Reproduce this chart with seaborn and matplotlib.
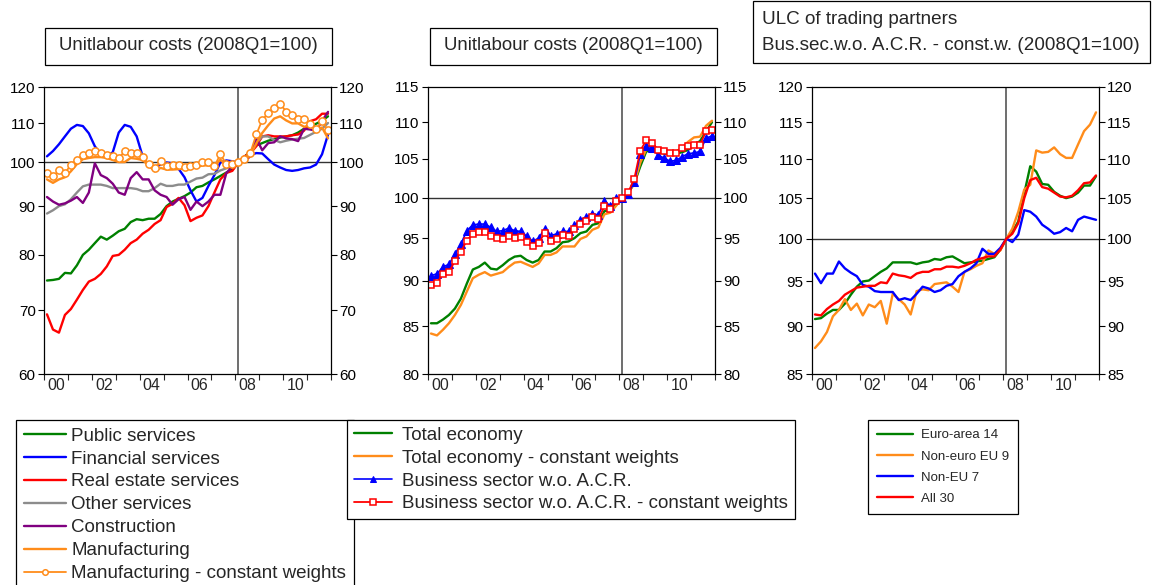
import matplotlib
matplotlib.use('Agg')
import matplotlib.pyplot as plt
from matplotlib.patches import Rectangle
from matplotlib.ticker import FixedLocator, FixedFormatter, NullLocator, NullFormatter
import pandas as pd
import seaborn as sns

# ---- data (quarterly, 2000Q1-2011Q4, 2008Q1 = 100) ----
quarters = pd.period_range('2000Q1', '2011Q4', freq='Q')
year_labels = ['00', '02', '04', '06', '08', '10']

public_services = [75.2, 75.3, 75.5, 76.6, 76.5, 78.0, 80.0, 81.0, 82.3, 83.6, 83.0, 83.8,
                   84.7, 85.2, 86.6, 87.2, 87.0, 87.3, 87.3, 88.3, 90.0, 91.0, 91.6, 92.2,
                   93.0, 94.2, 94.5, 95.3, 96.0, 96.8, 97.6, 98.3, 100.0, 101.3, 102.8, 104.2,
                   104.8, 105.4, 105.8, 106.2, 106.5, 106.8, 107.5, 108.5, 109.0, 109.8, 110.6, 111.8]
financial_services = [101.5, 102.8, 104.5, 106.5, 108.5, 109.5, 109.2, 107.3, 104.0, 102.0, 101.5, 102.5,
                      107.5, 109.5, 109.0, 106.5, 101.5, 99.0, 98.8, 99.5, 100.0, 99.8, 98.5, 96.5,
                      93.5, 91.0, 91.8, 94.5, 97.0, 100.0, 100.5, 100.3, 100.0, 100.8, 101.8, 102.3,
                      102.2, 100.8, 99.5, 98.8, 98.2, 98.0, 98.2, 98.6, 98.8, 99.5, 102.0, 107.0]
real_estate = [69.3, 66.8, 66.3, 69.2, 70.2, 71.8, 73.5, 75.0, 75.5, 76.4, 77.8, 79.8,
               80.0, 81.0, 82.3, 83.0, 84.2, 85.0, 86.2, 87.0, 89.8, 90.5, 91.8, 90.2,
               86.8, 87.5, 88.0, 90.0, 93.0, 96.0, 97.5, 98.0, 100.0, 101.5, 102.2, 104.0,
               106.5, 106.8, 106.5, 106.5, 106.5, 106.8, 107.0, 108.0, 110.5, 111.0, 112.5, 112.5]
other_services = [88.4, 89.1, 90.0, 90.4, 91.5, 93.0, 94.4, 94.8, 94.8, 94.8, 94.5, 94.0,
                  94.0, 94.0, 94.0, 93.8, 93.3, 93.3, 94.0, 95.0, 94.5, 94.5, 94.8, 94.8,
                  95.5, 96.2, 96.4, 97.2, 97.3, 98.1, 98.6, 99.0, 100.0, 100.9, 102.3, 104.8,
                  106.5, 106.5, 105.6, 105.0, 105.4, 105.7, 105.9, 106.1, 106.9, 107.7, 108.5, 110.0]
construction = [92.0, 91.0, 90.3, 90.6, 91.2, 92.0, 90.7, 93.0, 99.8, 97.0, 96.3, 95.0,
                93.0, 92.5, 96.3, 97.7, 96.0, 96.0, 93.5, 92.5, 92.0, 90.3, 91.5, 92.0,
                89.2, 91.0, 90.0, 91.0, 92.5, 92.5, 97.5, 99.0, 100.0, 100.3, 101.5, 106.0,
                103.0, 104.8, 105.0, 106.5, 106.0, 105.8, 105.3, 108.5, 108.3, 108.0, 110.5, 113.0]
manufacturing = [96.0, 95.2, 96.0, 96.5, 97.9, 99.6, 100.8, 101.1, 101.3, 101.3, 101.1, 100.6,
                 100.1, 100.1, 101.1, 100.9, 100.6, 99.3, 97.9, 98.7, 98.3, 98.3, 98.4, 98.6,
                 98.7, 98.9, 99.3, 99.3, 99.1, 100.7, 99.3, 99.3, 100.0, 100.7, 101.8, 104.7,
                 107.4, 109.4, 111.2, 111.8, 110.7, 109.9, 109.9, 109.0, 109.4, 108.4, 108.8, 106.0]
manufacturing_cw = [97.5, 96.7, 98.1, 97.4, 99.5, 100.6, 101.9, 102.2, 102.7, 102.2, 101.9, 101.6,
                    101.1, 102.7, 102.2, 102.2, 101.4, 99.6, 98.6, 100.3, 99.1, 99.4, 99.3, 98.8,
                    99.1, 99.3, 100.2, 100.2, 99.1, 102.0, 99.6, 99.6, 100.0, 100.8, 102.3, 107.0,
                    110.8, 112.7, 114.2, 115.2, 113.1, 112.2, 111.0, 111.2, 109.8, 108.3, 110.5, 108.1]

total_economy = [85.3, 85.3, 85.7, 86.2, 86.9, 88.0, 89.7, 91.3, 91.6, 92.1, 91.4, 91.3,
                 91.8, 92.4, 92.8, 92.9, 92.4, 92.1, 92.4, 93.4, 93.4, 93.8, 94.5, 94.6,
                 95.0, 95.6, 95.8, 96.6, 96.8, 98.3, 98.4, 99.1, 100.0, 100.6, 101.8, 104.0,
                 106.0, 106.2, 106.0, 105.7, 105.6, 105.7, 105.9, 106.2, 106.9, 107.4, 108.7, 110.0]
total_economy_cw = [84.2, 84.0, 84.6, 85.3, 86.2, 87.3, 88.8, 90.3, 90.7, 91.0, 90.6, 90.8,
                    91.0, 91.6, 92.1, 92.2, 91.9, 91.6, 92.0, 93.0, 93.0, 93.3, 94.0, 94.0,
                    94.0, 94.9, 95.2, 96.0, 96.3, 97.9, 98.1, 99.0, 100.0, 100.6, 101.8, 104.5,
                    106.3, 106.4, 106.0, 105.8, 105.8, 106.0, 106.5, 107.3, 107.9, 108.0, 109.5, 110.2]
business_sector = [90.6, 90.8, 91.6, 91.9, 93.1, 94.3, 95.9, 96.6, 96.7, 96.7, 96.3, 95.8,
                   95.9, 96.2, 95.9, 95.8, 95.2, 94.6, 95.0, 96.1, 95.3, 95.5, 95.8, 95.8,
                   96.6, 97.2, 97.6, 98.0, 97.8, 99.6, 98.9, 99.9, 100.0, 100.5, 102.0, 105.6,
                   106.8, 106.5, 105.5, 105.1, 104.7, 104.8, 105.3, 105.7, 105.8, 106.0, 107.8, 108.1]
business_sector_cw = [89.5, 89.8, 90.8, 91.0, 92.3, 93.4, 94.7, 95.5, 95.7, 95.7, 95.3, 95.0,
                      94.9, 95.3, 95.0, 95.1, 94.5, 94.0, 94.4, 95.6, 94.7, 94.9, 95.4, 95.2,
                      96.1, 96.7, 97.1, 97.6, 97.3, 98.9, 98.6, 99.5, 100.0, 100.7, 102.4, 106.1,
                      107.5, 107.2, 106.2, 106.0, 105.8, 105.8, 106.4, 106.7, 106.9, 106.9, 108.8, 108.9]

euro_area_14 = [90.8, 90.9, 91.4, 91.8, 91.8, 92.5, 93.5, 94.4, 95.0, 95.1, 95.6, 96.1,
                96.5, 97.2, 97.2, 97.2, 97.2, 97.0, 97.2, 97.3, 97.6, 97.5, 97.8, 97.9,
                97.5, 97.1, 97.2, 97.3, 97.4, 97.6, 97.8, 98.7, 100.0, 100.8, 102.1, 105.6,
                109.1, 108.4, 106.8, 106.7, 105.8, 105.3, 105.0, 105.2, 105.7, 106.6, 106.6, 107.8]
non_euro_eu_9 = [87.7, 88.4, 89.4, 91.1, 91.8, 93.0, 91.8, 92.5, 91.2, 92.4, 92.1, 92.8,
                 90.3, 93.6, 93.0, 92.4, 91.3, 93.9, 94.1, 94.0, 94.7, 94.8, 94.9, 94.4,
                 93.8, 96.1, 96.4, 96.8, 97.1, 98.6, 98.2, 98.6, 100.0, 101.2, 103.3, 106.1,
                 106.7, 111.2, 110.9, 111.0, 111.6, 110.7, 110.2, 110.2, 112.0, 113.8, 114.7, 116.4]
non_eu_7 = [95.9, 94.8, 95.9, 95.9, 97.3, 96.5, 96.0, 95.6, 94.6, 94.4, 93.9, 93.8,
            93.8, 93.8, 92.9, 93.1, 92.9, 93.6, 94.4, 94.2, 93.8, 94.0, 94.5, 94.7,
            95.6, 96.1, 96.5, 97.1, 98.8, 98.2, 98.2, 98.9, 100.0, 99.6, 100.5, 103.5,
            103.3, 102.7, 101.7, 101.2, 100.6, 100.8, 101.3, 100.9, 102.3, 102.7, 102.5, 102.3]
all_30 = [91.3, 91.2, 91.9, 92.4, 92.8, 93.5, 93.9, 94.3, 94.4, 94.5, 94.5, 94.9,
          94.8, 95.9, 95.7, 95.6, 95.4, 95.9, 96.1, 96.1, 96.4, 96.4, 96.7, 96.7,
          96.6, 96.8, 97.1, 97.5, 97.7, 97.9, 97.9, 98.7, 100.0, 100.6, 101.9, 105.0,
          107.3, 107.6, 106.4, 106.2, 105.7, 105.2, 105.1, 105.3, 106.0, 106.9, 107.0, 107.9]

# ---- style ----
sns.set_style('ticks')
plt.rcParams['font.family'] = ['Liberation Sans', 'DejaVu Sans']

W, H = 1154, 585
fig = plt.figure(figsize=(W / 100, H / 100), dpi=100)


def fx(px):
    return px / W


def fy(py):
    return 1 - py / H


x = quarters.year + (quarters.quarter - 0.5) / 4


def make_axes(left_px):
    return fig.add_axes([fx(left_px), fy(374), 287 / W, 287 / H])


def style_axis(ax, lo, hi, yticks):
    ax.set_yscale('log')
    ax.set_ylim(lo, hi)
    ax.set_xlim(2000, 2012)
    ax.yaxis.set_major_locator(FixedLocator(yticks))
    ax.yaxis.set_major_formatter(FixedFormatter([str(t) for t in yticks]))
    ax.yaxis.set_minor_locator(NullLocator())
    ax.yaxis.set_minor_formatter(NullFormatter())
    ax.tick_params(axis='y', which='major', left=True, right=True, labelleft=True,
                   labelright=True, direction='out', length=4, width=0.8,
                   labelsize=11, pad=2, colors='black')
    ax.xaxis.set_major_locator(FixedLocator(range(2000, 2013)))
    ax.xaxis.set_major_formatter(NullFormatter())
    ax.xaxis.set_minor_locator(FixedLocator([2000.5 + 2 * k for k in range(6)]))
    ax.xaxis.set_minor_formatter(FixedFormatter(year_labels))
    ax.tick_params(axis='x', which='major', direction='out', length=4, width=0.8)
    ax.tick_params(axis='x', which='minor', length=0, labelsize=11.5, pad=3)
    for s in ax.spines.values():
        s.set_visible(True)
        s.set_color('black')
        s.set_linewidth(0.9)
    ax.axhline(100, color='#333333', lw=1.0, zorder=1)
    ax.axvline(2008.125, color='#555555', lw=1.2, zorder=1)
    ax.set_xlabel('')
    ax.set_ylabel('')


GREEN, BLUE, RED = '#008000', '#0000FF', '#FF0000'
GRAY, PURPLE, ORANGE = '#8C8C8C', '#800080', '#FF8C1A'
LW = 1.7

# ---- panel 1 ----
ax1 = make_axes(44)
p1 = [
    (public_services, 'Public services', GREEN, {}),
    (financial_services, 'Financial services', BLUE, {}),
    (real_estate, 'Real estate services', RED, {}),
    (other_services, 'Other services', GRAY, {}),
    (construction, 'Construction', PURPLE, {}),
    (manufacturing, 'Manufacturing', ORANGE, {}),
    (manufacturing_cw, 'Manufacturing - constant weights', ORANGE,
     dict(marker='o', markersize=5.2, markerfacecolor='white', markeredgecolor=ORANGE,
          markeredgewidth=1.1, lw=1.3)),
]
for vals, lab, col, kw in p1:
    opts = dict(lw=LW)
    opts.update(kw)
    sns.lineplot(x=x, y=vals, ax=ax1, color=col, label=lab, legend=False, **opts)
style_axis(ax1, 60, 120, [60, 70, 80, 90, 100, 110, 120])

# ---- panel 2 ----
ax2 = make_axes(428)
p2 = [
    (total_economy, 'Total economy', GREEN, {}),
    (total_economy_cw, 'Total economy - constant weights', ORANGE, {}),
    (business_sector, 'Business sector w.o. A.C.R.', BLUE,
     dict(marker='^', markersize=5.2, markerfacecolor=BLUE, markeredgecolor=BLUE, lw=1.2)),
    (business_sector_cw, 'Business sector w.o. A.C.R. - constant weights', RED,
     dict(marker='s', markersize=5.0, markerfacecolor='white', markeredgecolor=RED,
          markeredgewidth=1.1, lw=1.3)),
]
for vals, lab, col, kw in p2:
    opts = dict(lw=LW)
    opts.update(kw)
    sns.lineplot(x=x, y=vals, ax=ax2, color=col, label=lab, legend=False, **opts)
style_axis(ax2, 80, 115, [80, 85, 90, 95, 100, 105, 110, 115])

# ---- panel 3 ----
ax3 = make_axes(812)
p3 = [
    (euro_area_14, 'Euro-area 14', GREEN),
    (non_euro_eu_9, 'Non-euro EU 9', ORANGE),
    (non_eu_7, 'Non-EU 7', BLUE),
    (all_30, 'All 30', RED),
]
for vals, lab, col in p3:
    sns.lineplot(x=x, y=vals, ax=ax3, color=col, label=lab, legend=False, lw=LW)
style_axis(ax3, 85, 120, [85, 90, 95, 100, 105, 110, 115, 120])

# ---- title boxes ----
for x0, x1 in [(45, 332), (430, 717)]:
    fig.add_artist(Rectangle((fx(x0), fy(65)), (x1 - x0) / W, 37 / H, transform=fig.transFigure,
                             facecolor='white', edgecolor='black', lw=0.9))
    fig.text(fx((x0 + x1) / 2), fy(46), 'Unitlabour costs (2008Q1=100)', ha='center',
             va='center', fontsize=13.4)

fig.add_artist(Rectangle((fx(753), fy(63)), 397 / W, 62 / H, transform=fig.transFigure,
                         facecolor='white', edgecolor='black', lw=0.9))
fig.text(fx(762), fy(20), 'ULC of trading partners', ha='left', va='center', fontsize=13.6)
fig.text(fx(762), fy(45), 'Bus.sec.w.o. A.C.R. - const.w. (2008Q1=100)', ha='left',
         va='center', fontsize=13.6)


# ---- legends ----
def add_legend(ax, left, top, fontsize, spacing, hlen, tpad, bpad):
    handles, labels = ax.get_legend_handles_labels()
    leg = fig.legend(handles, labels, loc='upper left', bbox_to_anchor=(fx(left), fy(top)),
                     bbox_transform=fig.transFigure, borderaxespad=0, frameon=True,
                     fancybox=False, framealpha=1, edgecolor='black', borderpad=bpad,
                     labelspacing=spacing, handlelength=hlen, handletextpad=tpad,
                     prop={'size': fontsize})
    leg.get_frame().set_linewidth(0.9)
    for h in leg.legend_handles:
        h.set_markersize(4)
    return leg


add_legend(ax1, 16, 420, 13.5, 0.31, 2.25, 0.3, 0.4)
add_legend(ax2, 347, 420, 13.5, 0.31, 2.05, 0.55, 0.35)
add_legend(ax3, 868, 420, 9.5, 0.68, 2.7, 0.6, 0.7)

fig.savefig('out.png', dpi=100)
